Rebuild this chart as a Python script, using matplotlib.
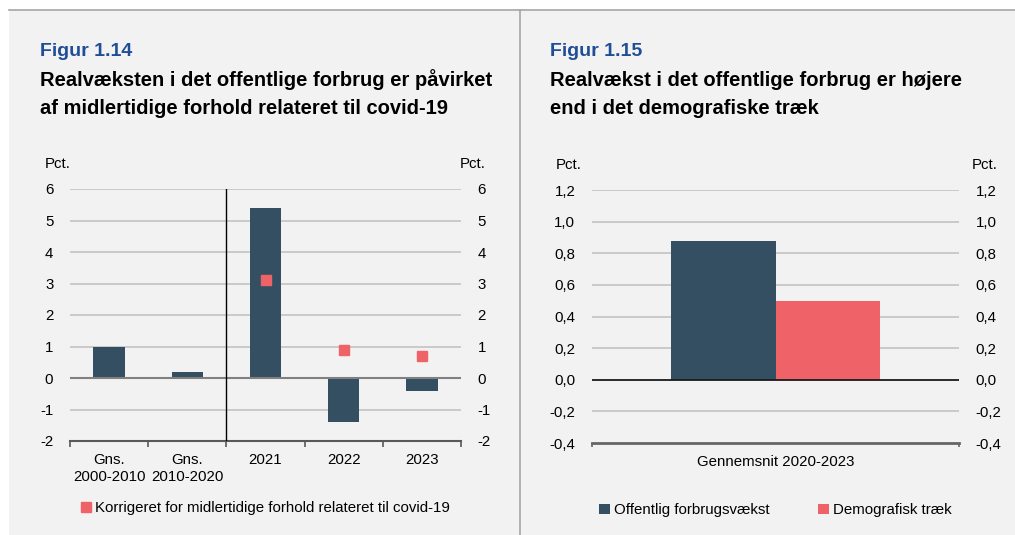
import matplotlib
matplotlib.use("Agg")
import matplotlib.pyplot as plt
from matplotlib.patches import Rectangle
from matplotlib.lines import Line2D
import numpy as np

plt.rcParams['font.family'] = ['Liberation Sans', 'DejaVu Sans']

# ---- data ----
left_categories = ["Gns.\n2000-2010", "Gns.\n2010-2020", "2021", "2022", "2023"]
left_values = [1.0, 0.2, 5.4, -1.4, -0.4]
corrected_x = ["2021", "2022", "2023"]
corrected_values = [3.1, 0.9, 0.7]
left_yticks = [-2, -1, 0, 1, 2, 3, 4, 5, 6]

right_category = ["Gennemsnit 2020-2023"]
offentlig = [0.88]
demografisk = [0.50]
right_yticks = [-0.4, -0.2, 0.0, 0.2, 0.4, 0.6, 0.8, 1.0, 1.2]

DARK = "#344f61"
RED = "#ef6368"
BG = "#f2f2f2"
GRID = "#c3c3c3"
BLUE = "#1f4e96"
FS = 10.8
TFS = 14.5

W, H = 1015, 535
fig = plt.figure(figsize=(W / 100, H / 100), dpi=100, facecolor="white")

# panel background and frame lines
fig.add_artist(Rectangle((9 / W, 0), 1 - 9 / W, 1 - 10 / H, transform=fig.transFigure,
                         facecolor=BG, edgecolor="none", zorder=-10))
fig.add_artist(Line2D([9 / W, 1], [1 - 10 / H, 1 - 10 / H], transform=fig.transFigure,
                      color="#a6a6a6", lw=1.2))
fig.add_artist(Line2D([520 / W, 520 / W], [0, 1 - 10 / H], transform=fig.transFigure,
                      color="#a6a6a6", lw=1.2))

# titles
fig.text(40 / W, 1 - 51 / H, "Figur 1.14", color=BLUE, fontsize=14, fontweight="bold",
         va="center", ha="left")
fig.text(40 / W, 1 - 80 / H, "Realvæksten i det offentlige forbrug er påvirket",
         color="black", fontsize=TFS, fontweight="bold", va="center", ha="left")
fig.text(40 / W, 1 - 108 / H, "af midlertidige forhold relateret til covid-19",
         color="black", fontsize=TFS, fontweight="bold", va="center", ha="left")

fig.text(550 / W, 1 - 51 / H, "Figur 1.15", color=BLUE, fontsize=14, fontweight="bold",
         va="center", ha="left")
fig.text(550 / W, 1 - 80 / H, "Realvækst i det offentlige forbrug er højere",
         color="black", fontsize=TFS, fontweight="bold", va="center", ha="left")
fig.text(550 / W, 1 - 108 / H, "end i det demografiske træk",
         color="black", fontsize=TFS, fontweight="bold", va="center", ha="left")


def style_axis(ax):
    ax.set_facecolor("none")
    for s in ["top", "left", "right"]:
        ax.spines[s].set_visible(False)
    ax.tick_params(axis="y", which="both", length=0, labelsize=FS, pad=12,
                   labelright=True, labelleft=True, colors="black")


# ---- left chart ----
axL = fig.add_axes([70 / W, 1 - 441 / H, (461 - 70) / W, (441 - 189) / H])
style_axis(axL)
x = np.arange(len(left_categories))
axL.set_xlim(-0.5, len(left_categories) - 0.5)
axL.set_ylim(-2, 6)
axL.set_yticks(left_yticks)
axL.set_yticklabels([str(v) for v in left_yticks])
for v in left_yticks:
    if v in (-2, 0):
        continue
    axL.axhline(v, color=GRID, lw=1.2, zorder=0)
axL.bar(x, left_values, width=0.4, color=DARK, zorder=2)
axL.axhline(0, color="#808080", lw=1.5, zorder=3)
cx = [left_categories.index(c) for c in corrected_x]
axL.plot(cx, corrected_values, linestyle="none", marker="s", markersize=6.5,
         color=RED, zorder=4, label="Korrigeret for midlertidige forhold relateret til covid-19")
axL.axvline(1.5, color="black", lw=1, zorder=3)
axL.spines["bottom"].set_color("#595959")
axL.spines["bottom"].set_linewidth(1.5)
axL.set_xticks(x)
axL.set_xticklabels(left_categories, fontsize=FS)
axL.set_xticks(np.arange(-0.5, len(left_categories)), minor=True)
axL.tick_params(axis="x", which="major", length=0, pad=9)
axL.tick_params(axis="x", which="minor", length=4, width=1.2, color="#595959", direction="out")
axL.text(-0.064, 1.1, "Pct.", transform=axL.transAxes, fontsize=FS, ha="left", va="center")
axL.text(1.064, 1.1, "Pct.", transform=axL.transAxes, fontsize=FS, ha="right", va="center")
axL.legend(loc="center", bbox_to_anchor=(0.5, -0.266), frameon=False, fontsize=FS,
           handlelength=0.6, handletextpad=0.3, markerscale=1.0)

# ---- right chart ----
axR = fig.add_axes([592 / W, 1 - 443 / H, (959 - 592) / W, (443 - 190) / H])
style_axis(axR)
xr = np.arange(len(right_category))
axR.set_xlim(-0.5, 0.5)
axR.set_ylim(-0.4, 1.2)
axR.set_yticks(right_yticks)
axR.set_yticklabels([f"{v:.1f}".replace(".", ",").replace("-0,0", "0,0") for v in right_yticks])
for v in right_yticks:
    if abs(v + 0.4) < 1e-9 or abs(v) < 1e-9:
        continue
    axR.axhline(v, color=GRID, lw=1.2, zorder=0)
bw = 0.286
axR.bar(xr - bw / 2, offentlig, width=bw, color=DARK, zorder=2, label="Offentlig forbrugsvækst")
axR.bar(xr + bw / 2, demografisk, width=bw, color=RED, zorder=2, label="Demografisk træk")
axR.axhline(0, color="#1a1a1a", lw=1.3, zorder=3)
axR.spines["bottom"].set_color("#666666")
axR.spines["bottom"].set_linewidth(2)
axR.set_xticks(xr)
axR.set_xticklabels(right_category, fontsize=FS)
axR.set_xticks([-0.5, 0.5], minor=True)
axR.tick_params(axis="x", which="major", length=0, pad=9)
axR.tick_params(axis="x", which="minor", length=3, width=1.2, color="#666666", direction="out")
axR.text(-0.098, 1.1, "Pct.", transform=axR.transAxes, fontsize=FS, ha="left", va="center")
axR.text(1.104, 1.1, "Pct.", transform=axR.transAxes, fontsize=FS, ha="right", va="center")
axR.legend(loc="center", bbox_to_anchor=(0.5, -0.265), frameon=False, fontsize=FS, ncol=2,
           handlelength=0.7, handleheight=0.7, handletextpad=0.3, columnspacing=3.2)

fig.savefig("out.png", dpi=100, facecolor="white")
